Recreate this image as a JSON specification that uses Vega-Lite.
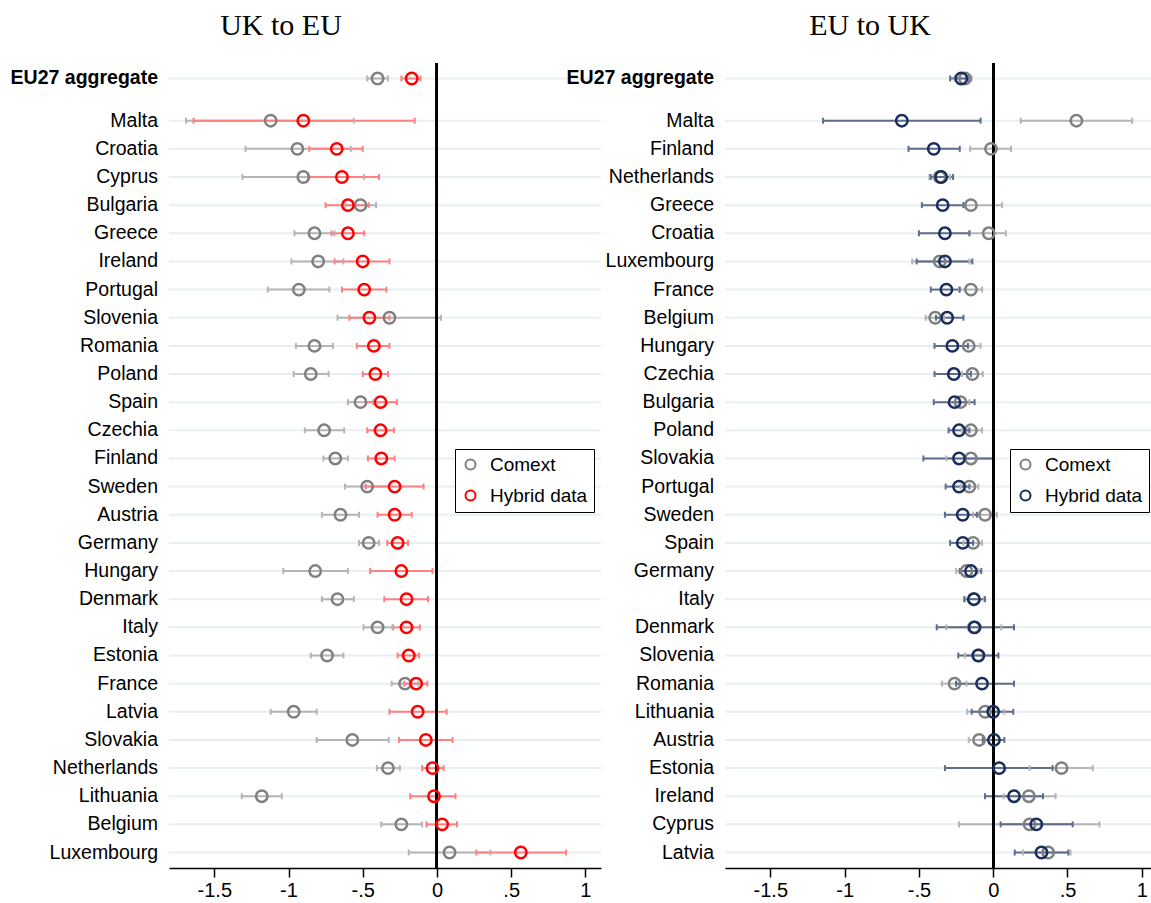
{
  "$schema": "https://vega.github.io/schema/vega-lite/v6.json",
  "background": "white",
  "padding": {"left": 10, "top": 11, "right": 0, "bottom": 0},
  "spacing": -36,
  "config": {
    "view": {"stroke": null},
    "font": "Liberation Sans",
    "axisX": {
      "domainColor": "black", "domainWidth": 1.5, "tickColor": "black", "tickWidth": 1.5, "tickSize": 9,
      "labelFontSize": 20, "labelFont": "Liberation Sans", "labelColor": "black", "grid": false,
      "labelPadding": 3, "labelFlush": false, "labelOverlap": false,
      "labelExpr": "replace(datum.value + '', '0.', '.')"
    },
    "legend": {
      "strokeColor": "black", "fillColor": "white", "padding": 6, "labelFontSize": 19, "labelFont": "Liberation Sans",
      "labelColor": "black", "symbolSize": 100, "symbolStrokeWidth": 2, "rowPadding": 11, "labelOffset": 10, "symbolType": "circle"
    }
  },
  "datasets": {
    "uk2eu": [
      {"c": "EU27 aggregate", "r": -0.5, "s": "Comext", "v": -0.40, "lo": -0.47, "hi": -0.33},
      {"c": "Malta", "r": 1, "s": "Comext", "v": -1.12, "lo": -1.69, "hi": -0.56},
      {"c": "Croatia", "r": 2, "s": "Comext", "v": -0.94, "lo": -1.29, "hi": -0.58},
      {"c": "Cyprus", "r": 3, "s": "Comext", "v": -0.90, "lo": -1.31, "hi": -0.49},
      {"c": "Bulgaria", "r": 4, "s": "Comext", "v": -0.515, "lo": -0.62, "hi": -0.41},
      {"c": "Greece", "r": 5, "s": "Comext", "v": -0.825, "lo": -0.96, "hi": -0.69},
      {"c": "Ireland", "r": 6, "s": "Comext", "v": -0.80, "lo": -0.98, "hi": -0.63},
      {"c": "Portugal", "r": 7, "s": "Comext", "v": -0.93, "lo": -1.14, "hi": -0.725},
      {"c": "Slovenia", "r": 8, "s": "Comext", "v": -0.32, "lo": -0.67, "hi": 0.027},
      {"c": "Romania", "r": 9, "s": "Comext", "v": -0.825, "lo": -0.95, "hi": -0.70},
      {"c": "Poland", "r": 10, "s": "Comext", "v": -0.85, "lo": -0.965, "hi": -0.73},
      {"c": "Spain", "r": 11, "s": "Comext", "v": -0.515, "lo": -0.60, "hi": -0.43},
      {"c": "Czechia", "r": 12, "s": "Comext", "v": -0.76, "lo": -0.89, "hi": -0.625},
      {"c": "Finland", "r": 13, "s": "Comext", "v": -0.685, "lo": -0.765, "hi": -0.60},
      {"c": "Sweden", "r": 14, "s": "Comext", "v": -0.47, "lo": -0.62, "hi": -0.32},
      {"c": "Austria", "r": 15, "s": "Comext", "v": -0.65, "lo": -0.775, "hi": -0.525},
      {"c": "Germany", "r": 16, "s": "Comext", "v": -0.46, "lo": -0.525, "hi": -0.39},
      {"c": "Hungary", "r": 17, "s": "Comext", "v": -0.82, "lo": -1.035, "hi": -0.60},
      {"c": "Denmark", "r": 18, "s": "Comext", "v": -0.67, "lo": -0.775, "hi": -0.56},
      {"c": "Italy", "r": 19, "s": "Comext", "v": -0.40, "lo": -0.495, "hi": -0.30},
      {"c": "Estonia", "r": 20, "s": "Comext", "v": -0.74, "lo": -0.85, "hi": -0.63},
      {"c": "France", "r": 21, "s": "Comext", "v": -0.215, "lo": -0.305, "hi": -0.125},
      {"c": "Latvia", "r": 22, "s": "Comext", "v": -0.965, "lo": -1.12, "hi": -0.81},
      {"c": "Slovakia", "r": 23, "s": "Comext", "v": -0.57, "lo": -0.81, "hi": -0.325},
      {"c": "Netherlands", "r": 24, "s": "Comext", "v": -0.33, "lo": -0.405, "hi": -0.25},
      {"c": "Lithuania", "r": 25, "s": "Comext", "v": -1.18, "lo": -1.315, "hi": -1.045},
      {"c": "Belgium", "r": 26, "s": "Comext", "v": -0.24, "lo": -0.375, "hi": -0.10},
      {"c": "Luxembourg", "r": 27, "s": "Comext", "v": 0.085, "lo": -0.19, "hi": 0.36},
      {"c": "EU27 aggregate", "r": -0.5, "s": "Hybrid data", "v": -0.17, "lo": -0.24, "hi": -0.11},
      {"c": "Malta", "r": 1, "s": "Hybrid data", "v": -0.90, "lo": -1.64, "hi": -0.15},
      {"c": "Croatia", "r": 2, "s": "Hybrid data", "v": -0.675, "lo": -0.86, "hi": -0.50},
      {"c": "Cyprus", "r": 3, "s": "Hybrid data", "v": -0.64, "lo": -0.87, "hi": -0.39},
      {"c": "Bulgaria", "r": 4, "s": "Hybrid data", "v": -0.60, "lo": -0.75, "hi": -0.46},
      {"c": "Greece", "r": 5, "s": "Hybrid data", "v": -0.60, "lo": -0.71, "hi": -0.49},
      {"c": "Ireland", "r": 6, "s": "Hybrid data", "v": -0.50, "lo": -0.69, "hi": -0.32},
      {"c": "Portugal", "r": 7, "s": "Hybrid data", "v": -0.49, "lo": -0.64, "hi": -0.34},
      {"c": "Slovenia", "r": 8, "s": "Hybrid data", "v": -0.455, "lo": -0.59, "hi": -0.32},
      {"c": "Romania", "r": 9, "s": "Hybrid data", "v": -0.425, "lo": -0.54, "hi": -0.32},
      {"c": "Poland", "r": 10, "s": "Hybrid data", "v": -0.415, "lo": -0.50, "hi": -0.33},
      {"c": "Spain", "r": 11, "s": "Hybrid data", "v": -0.38, "lo": -0.48, "hi": -0.27},
      {"c": "Czechia", "r": 12, "s": "Hybrid data", "v": -0.38, "lo": -0.47, "hi": -0.29},
      {"c": "Finland", "r": 13, "s": "Hybrid data", "v": -0.375, "lo": -0.465, "hi": -0.285},
      {"c": "Sweden", "r": 14, "s": "Hybrid data", "v": -0.285, "lo": -0.48, "hi": -0.09},
      {"c": "Austria", "r": 15, "s": "Hybrid data", "v": -0.285, "lo": -0.40, "hi": -0.17},
      {"c": "Germany", "r": 16, "s": "Hybrid data", "v": -0.265, "lo": -0.335, "hi": -0.195},
      {"c": "Hungary", "r": 17, "s": "Hybrid data", "v": -0.24, "lo": -0.45, "hi": -0.03},
      {"c": "Denmark", "r": 18, "s": "Hybrid data", "v": -0.205, "lo": -0.355, "hi": -0.06},
      {"c": "Italy", "r": 19, "s": "Hybrid data", "v": -0.205, "lo": -0.295, "hi": -0.115},
      {"c": "Estonia", "r": 20, "s": "Hybrid data", "v": -0.19, "lo": -0.265, "hi": -0.12},
      {"c": "France", "r": 21, "s": "Hybrid data", "v": -0.14, "lo": -0.22, "hi": -0.065},
      {"c": "Latvia", "r": 22, "s": "Hybrid data", "v": -0.13, "lo": -0.32, "hi": 0.065},
      {"c": "Slovakia", "r": 23, "s": "Hybrid data", "v": -0.075, "lo": -0.255, "hi": 0.105},
      {"c": "Netherlands", "r": 24, "s": "Hybrid data", "v": -0.03, "lo": -0.10, "hi": 0.045},
      {"c": "Lithuania", "r": 25, "s": "Hybrid data", "v": -0.02, "lo": -0.18, "hi": 0.125},
      {"c": "Belgium", "r": 26, "s": "Hybrid data", "v": 0.035, "lo": -0.07, "hi": 0.135},
      {"c": "Luxembourg", "r": 27, "s": "Hybrid data", "v": 0.565, "lo": 0.265, "hi": 0.87}
    ],
    "eu2uk": [
      {"c": "EU27 aggregate", "r": -0.5, "s": "Comext", "v": -0.19, "lo": -0.26, "hi": -0.145},
      {"c": "Malta", "r": 1, "s": "Comext", "v": 0.56, "lo": 0.185, "hi": 0.935},
      {"c": "Finland", "r": 2, "s": "Comext", "v": -0.015, "lo": -0.155, "hi": 0.12},
      {"c": "Netherlands", "r": 3, "s": "Comext", "v": -0.36, "lo": -0.43, "hi": -0.29},
      {"c": "Greece", "r": 4, "s": "Comext", "v": -0.15, "lo": -0.20, "hi": 0.06},
      {"c": "Croatia", "r": 5, "s": "Comext", "v": -0.03, "lo": -0.16, "hi": 0.085},
      {"c": "Luxembourg", "r": 6, "s": "Comext", "v": -0.36, "lo": -0.545, "hi": -0.16},
      {"c": "France", "r": 7, "s": "Comext", "v": -0.15, "lo": -0.23, "hi": -0.075},
      {"c": "Belgium", "r": 8, "s": "Comext", "v": -0.39, "lo": -0.455, "hi": -0.33},
      {"c": "Hungary", "r": 9, "s": "Comext", "v": -0.165, "lo": -0.235, "hi": -0.085},
      {"c": "Czechia", "r": 10, "s": "Comext", "v": -0.14, "lo": -0.21, "hi": -0.07},
      {"c": "Bulgaria", "r": 11, "s": "Comext", "v": -0.22, "lo": -0.29, "hi": -0.16},
      {"c": "Poland", "r": 12, "s": "Comext", "v": -0.15, "lo": -0.21, "hi": -0.075},
      {"c": "Slovakia", "r": 13, "s": "Comext", "v": -0.15, "lo": -0.315, "hi": 0.005},
      {"c": "Portugal", "r": 14, "s": "Comext", "v": -0.16, "lo": -0.22, "hi": -0.10},
      {"c": "Sweden", "r": 15, "s": "Comext", "v": -0.055, "lo": -0.135, "hi": 0.025},
      {"c": "Spain", "r": 16, "s": "Comext", "v": -0.135, "lo": -0.20, "hi": -0.075},
      {"c": "Germany", "r": 17, "s": "Comext", "v": -0.18, "lo": -0.25, "hi": -0.10},
      {"c": "Italy", "r": 18, "s": "Comext", "v": -0.13, "lo": -0.19, "hi": -0.06},
      {"c": "Denmark", "r": 19, "s": "Comext", "v": -0.13, "lo": -0.315, "hi": 0.055},
      {"c": "Slovenia", "r": 20, "s": "Comext", "v": -0.10, "lo": -0.19, "hi": 0.0},
      {"c": "Romania", "r": 21, "s": "Comext", "v": -0.26, "lo": -0.345, "hi": -0.18},
      {"c": "Lithuania", "r": 22, "s": "Comext", "v": -0.055, "lo": -0.175, "hi": 0.075},
      {"c": "Austria", "r": 23, "s": "Comext", "v": -0.095, "lo": -0.165, "hi": -0.025},
      {"c": "Estonia", "r": 24, "s": "Comext", "v": 0.46, "lo": 0.245, "hi": 0.67},
      {"c": "Ireland", "r": 25, "s": "Comext", "v": 0.24, "lo": 0.07, "hi": 0.42},
      {"c": "Cyprus", "r": 26, "s": "Comext", "v": 0.245, "lo": -0.23, "hi": 0.715},
      {"c": "Latvia", "r": 27, "s": "Comext", "v": 0.37, "lo": 0.20, "hi": 0.52},
      {"c": "EU27 aggregate", "r": -0.5, "s": "Hybrid data", "v": -0.215, "lo": -0.29, "hi": -0.17},
      {"c": "Malta", "r": 1, "s": "Hybrid data", "v": -0.615, "lo": -1.145, "hi": -0.085},
      {"c": "Finland", "r": 2, "s": "Hybrid data", "v": -0.40, "lo": -0.57, "hi": -0.225},
      {"c": "Netherlands", "r": 3, "s": "Hybrid data", "v": -0.35, "lo": -0.42, "hi": -0.27},
      {"c": "Greece", "r": 4, "s": "Hybrid data", "v": -0.34, "lo": -0.48, "hi": -0.20},
      {"c": "Croatia", "r": 5, "s": "Hybrid data", "v": -0.325, "lo": -0.50, "hi": -0.16},
      {"c": "Luxembourg", "r": 6, "s": "Hybrid data", "v": -0.325, "lo": -0.515, "hi": -0.14},
      {"c": "France", "r": 7, "s": "Hybrid data", "v": -0.315, "lo": -0.42, "hi": -0.225},
      {"c": "Belgium", "r": 8, "s": "Hybrid data", "v": -0.31, "lo": -0.385, "hi": -0.20},
      {"c": "Hungary", "r": 9, "s": "Hybrid data", "v": -0.275, "lo": -0.395, "hi": -0.17},
      {"c": "Czechia", "r": 10, "s": "Hybrid data", "v": -0.265, "lo": -0.395, "hi": -0.15},
      {"c": "Bulgaria", "r": 11, "s": "Hybrid data", "v": -0.26, "lo": -0.40, "hi": -0.125},
      {"c": "Poland", "r": 12, "s": "Hybrid data", "v": -0.23, "lo": -0.30, "hi": -0.16},
      {"c": "Slovakia", "r": 13, "s": "Hybrid data", "v": -0.23, "lo": -0.47, "hi": 0.005},
      {"c": "Portugal", "r": 14, "s": "Hybrid data", "v": -0.23, "lo": -0.32, "hi": -0.16},
      {"c": "Sweden", "r": 15, "s": "Hybrid data", "v": -0.205, "lo": -0.325, "hi": -0.11},
      {"c": "Spain", "r": 16, "s": "Hybrid data", "v": -0.205, "lo": -0.29, "hi": -0.135},
      {"c": "Germany", "r": 17, "s": "Hybrid data", "v": -0.15, "lo": -0.225, "hi": -0.08},
      {"c": "Italy", "r": 18, "s": "Hybrid data", "v": -0.13, "lo": -0.195, "hi": -0.055},
      {"c": "Denmark", "r": 19, "s": "Hybrid data", "v": -0.125, "lo": -0.38, "hi": 0.14},
      {"c": "Slovenia", "r": 20, "s": "Hybrid data", "v": -0.10, "lo": -0.235, "hi": 0.035},
      {"c": "Romania", "r": 21, "s": "Hybrid data", "v": -0.075, "lo": -0.25, "hi": 0.14},
      {"c": "Lithuania", "r": 22, "s": "Hybrid data", "v": 0.0, "lo": -0.145, "hi": 0.135},
      {"c": "Austria", "r": 23, "s": "Hybrid data", "v": 0.005, "lo": -0.07, "hi": 0.075},
      {"c": "Estonia", "r": 24, "s": "Hybrid data", "v": 0.04, "lo": -0.325, "hi": 0.40},
      {"c": "Ireland", "r": 25, "s": "Hybrid data", "v": 0.14, "lo": -0.055, "hi": 0.335},
      {"c": "Cyprus", "r": 26, "s": "Hybrid data", "v": 0.29, "lo": 0.05, "hi": 0.535},
      {"c": "Latvia", "r": 27, "s": "Hybrid data", "v": 0.325, "lo": 0.145, "hi": 0.505}
    ]
  },
  "hconcat": [
    {
      "title": {"text": "UK to EU", "font": "Liberation Serif", "fontSize": 30, "fontWeight": "normal", "color": "black", "anchor": "middle", "frame": "group", "dx": -104, "offset": 21},
      "width": 432,
      "height": 805,
      "data": {"name": "uk2eu"},
      "encoding": {
        "y": {"field": "r", "type": "quantitative", "scale": {"domain": [-1.05, 27.55], "reverse": true, "nice": false, "zero": false}, "axis": null}
      },
      "layer": [
        {
          "transform": [{"filter": "datum.s == 'Comext'"}],
          "mark": {"type": "rule", "color": "#e8eff1", "strokeWidth": 2},
          "encoding": {}
        },
        {
          "transform": [{"filter": "datum.s == 'Comext' && datum.r > 0"}],
          "mark": {"type": "text", "align": "right", "baseline": "middle", "dx": -11, "fontSize": 19.5, "font": "Liberation Sans", "color": "black"},
          "encoding": {
            "x": {"datum": -1.805, "type": "quantitative", "scale": {"domain": [-1.805, 1.105], "nice": false, "zero": false}, "axis": {"title": null, "values": [-1.5, -1, -0.5, 0, 0.5, 1]}},
            "text": {"field": "c", "type": "nominal"}
          }
        },
        {
          "transform": [{"filter": "datum.s == 'Comext' && datum.r < 0"}],
          "mark": {"type": "text", "align": "right", "baseline": "middle", "dx": -11, "fontSize": 19.5, "fontWeight": "bold", "font": "Liberation Sans", "color": "black"},
          "encoding": {
            "x": {"datum": -1.805, "type": "quantitative", "axis": {"title": null, "values": [-1.5, -1, -0.5, 0, 0.5, 1]}},
            "text": {"field": "c", "type": "nominal"}
          }
        },
        {
          "mark": {"type": "rule", "strokeWidth": 2},
          "encoding": {
            "x": {"field": "lo", "type": "quantitative", "axis": {"title": null, "values": [-1.5, -1, -0.5, 0, 0.5, 1]}},
            "x2": {"field": "hi"},
            "color": {"condition": {"test": "datum.s == 'Comext'", "value": "#b5b5b5"}, "value": "#ff8080"}
          }
        },
        {
          "mark": {"type": "point", "shape": "M0,-0.5L0,0.5", "size": 144, "strokeWidth": 2, "filled": false, "opacity": 1},
          "encoding": {
            "x": {"field": "lo", "type": "quantitative", "axis": {"title": null, "values": [-1.5, -1, -0.5, 0, 0.5, 1]}},
            "color": {"condition": {"test": "datum.s == 'Comext'", "value": "#b5b5b5"}, "value": "#ff8080"}
          }
        },
        {
          "mark": {"type": "point", "shape": "M0,-0.5L0,0.5", "size": 144, "strokeWidth": 2, "filled": false, "opacity": 1},
          "encoding": {
            "x": {"field": "hi", "type": "quantitative", "axis": {"title": null, "values": [-1.5, -1, -0.5, 0, 0.5, 1]}},
            "color": {"condition": {"test": "datum.s == 'Comext'", "value": "#b5b5b5"}, "value": "#ff8080"}
          }
        },
        {
          "mark": {"type": "rule", "color": "black", "strokeWidth": 2},
          "encoding": {"x": {"datum": 0, "type": "quantitative", "axis": {"title": null, "values": [-1.5, -1, -0.5, 0, 0.5, 1]}}, "y": {"value": 0}, "y2": {"value": 805}}
        },
        {
          "mark": {"type": "point", "shape": "circle", "size": 130, "strokeWidth": 2.5, "filled": false, "opacity": 1},
          "encoding": {
            "x": {"field": "v", "type": "quantitative", "axis": {"title": null, "values": [-1.5, -1, -0.5, 0, 0.5, 1]}},
            "color": {"field": "s", "type": "nominal", "scale": {"domain": ["Comext", "Hybrid data"], "range": ["#808080", "#ff0000"]},
              "legend": {"title": null, "orient": "none", "legendX": 286, "legendY": 386}}
          }
        }
      ]
    },
    {
      "title": {"text": "EU to UK", "font": "Liberation Serif", "fontSize": 30, "fontWeight": "normal", "color": "black", "anchor": "middle", "frame": "group", "dx": -68, "offset": 21},
      "width": 426,
      "height": 805,
      "data": {"name": "eu2uk"},
      "encoding": {
        "y": {"field": "r", "type": "quantitative", "scale": {"domain": [-1.05, 27.55], "reverse": true, "nice": false, "zero": false}, "axis": null}
      },
      "layer": [
        {
          "transform": [{"filter": "datum.s == 'Comext'"}],
          "mark": {"type": "rule", "color": "#e8eff1", "strokeWidth": 2},
          "encoding": {}
        },
        {
          "transform": [{"filter": "datum.s == 'Comext' && datum.r > 0"}],
          "mark": {"type": "text", "align": "right", "baseline": "middle", "dx": -11, "fontSize": 19.5, "font": "Liberation Sans", "color": "black"},
          "encoding": {
            "x": {"datum": -1.805, "type": "quantitative", "scale": {"domain": [-1.805, 1.062], "nice": false, "zero": false}, "axis": {"title": null, "values": [-1.5, -1, -0.5, 0, 0.5, 1]}},
            "text": {"field": "c", "type": "nominal"}
          }
        },
        {
          "transform": [{"filter": "datum.s == 'Comext' && datum.r < 0"}],
          "mark": {"type": "text", "align": "right", "baseline": "middle", "dx": -11, "fontSize": 19.5, "fontWeight": "bold", "font": "Liberation Sans", "color": "black"},
          "encoding": {
            "x": {"datum": -1.805, "type": "quantitative", "axis": {"title": null, "values": [-1.5, -1, -0.5, 0, 0.5, 1]}},
            "text": {"field": "c", "type": "nominal"}
          }
        },
        {
          "mark": {"type": "rule", "strokeWidth": 2},
          "encoding": {
            "x": {"field": "lo", "type": "quantitative", "axis": {"title": null, "values": [-1.5, -1, -0.5, 0, 0.5, 1]}},
            "x2": {"field": "hi"},
            "color": {"condition": {"test": "datum.s == 'Comext'", "value": "#b5b5b5"}, "value": "#5e6d8f"}
          }
        },
        {
          "mark": {"type": "point", "shape": "M0,-0.5L0,0.5", "size": 144, "strokeWidth": 2, "filled": false, "opacity": 1},
          "encoding": {
            "x": {"field": "lo", "type": "quantitative", "axis": {"title": null, "values": [-1.5, -1, -0.5, 0, 0.5, 1]}},
            "color": {"condition": {"test": "datum.s == 'Comext'", "value": "#b5b5b5"}, "value": "#5e6d8f"}
          }
        },
        {
          "mark": {"type": "point", "shape": "M0,-0.5L0,0.5", "size": 144, "strokeWidth": 2, "filled": false, "opacity": 1},
          "encoding": {
            "x": {"field": "hi", "type": "quantitative", "axis": {"title": null, "values": [-1.5, -1, -0.5, 0, 0.5, 1]}},
            "color": {"condition": {"test": "datum.s == 'Comext'", "value": "#b5b5b5"}, "value": "#5e6d8f"}
          }
        },
        {
          "mark": {"type": "rule", "color": "black", "strokeWidth": 2},
          "encoding": {"x": {"datum": 0, "type": "quantitative", "axis": {"title": null, "values": [-1.5, -1, -0.5, 0, 0.5, 1]}}, "y": {"value": 0}, "y2": {"value": 805}}
        },
        {
          "mark": {"type": "point", "shape": "circle", "size": 130, "strokeWidth": 2.5, "filled": false, "opacity": 1},
          "encoding": {
            "x": {"field": "v", "type": "quantitative", "axis": {"title": null, "values": [-1.5, -1, -0.5, 0, 0.5, 1]}},
            "color": {"field": "s", "type": "nominal", "scale": {"domain": ["Comext", "Hybrid data"], "range": ["#808080", "#1b2d5c"]},
              "legend": {"title": null, "orient": "none", "legendX": 285, "legendY": 386}}
          }
        }
      ]
    }
  ],
  "resolve": {"scale": {"color": "independent", "x": "independent", "y": "independent"}, "legend": {"color": "independent"}}
}
